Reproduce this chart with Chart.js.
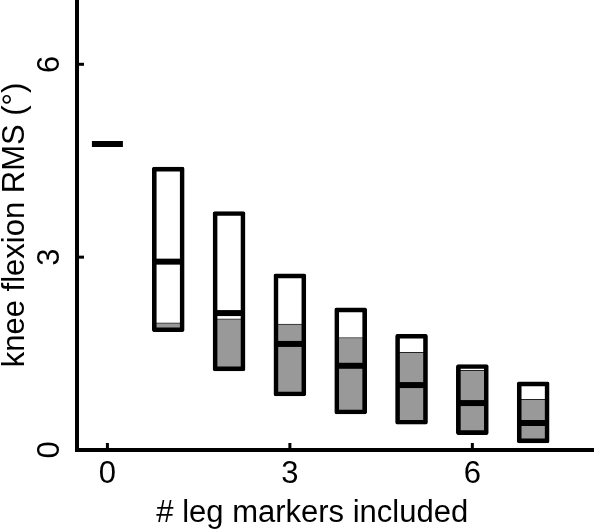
<!DOCTYPE html>
<html>
<head>
<meta charset="utf-8">
<script src="https://cdn.jsdelivr.net/npm/chart.js@4.4.1/dist/chart.umd.min.js"></script>
<style>
  body { margin: 0; background: #fff; }
  canvas { display: block; }
</style>
</head>
<body>
<canvas id="rmsChart" width="594" height="531"></canvas>
<script>
// Chart data
const markerCounts = [0, 1, 2, 3, 4, 5, 6, 7];
const medianRms = [4.76, 2.93, 2.13, 1.65, 1.31, 1.01, 0.73, 0.42];

const boxCounts = [1, 2, 3, 4, 5, 6, 7];
const rangeLow = [1.84, 1.23, 0.84, 0.56, 0.40, 0.24, 0.11];
const rangeHigh = [4.40, 3.71, 2.74, 2.21, 1.80, 1.33, 1.06];
const shadedTop = [1.98, 2.04, 1.96, 1.75, 1.52, 1.24, 0.79];

const xTickValues = [0, 3, 6];
const yTickValues = [0, 3, 6];

const FONT = 'Liberation Sans, Arial, Helvetica, sans-serif';

// Tick marks drawn on the inside of the axes, like the original
const innerTicks = {
    id: 'innerTicks',
    afterDraw(chart) {
        const { ctx, chartArea, scales } = chart;
        ctx.save();
        ctx.strokeStyle = '#000';
        ctx.lineWidth = 3;
        xTickValues.forEach(v => {
            const px = scales.x.getPixelForValue(v);
            ctx.beginPath();
            ctx.moveTo(px, chartArea.bottom);
            ctx.lineTo(px, chartArea.bottom - 7);
            ctx.stroke();
        });
        yTickValues.forEach(v => {
            const py = scales.y.getPixelForValue(v);
            ctx.beginPath();
            ctx.moveTo(chartArea.left, py);
            ctx.lineTo(chartArea.left + 7, py);
            ctx.stroke();
        });
        ctx.restore();
    }
};

function renderChart() {
    const ctx = document.getElementById('rmsChart').getContext('2d');

    new Chart(ctx, {
        type: 'bar',
        data: {
            datasets: [
                {
                    type: 'line',
                    label: 'median',
                    data: markerCounts.map((x, i) => ({ x: x, y: medianRms[i] })),
                    showLine: false,
                    pointStyle: 'line',
                    pointRadius: 15.5,
                    pointBorderWidth: 6,
                    pointBorderColor: '#000',
                    order: 0
                },
                {
                    label: 'range',
                    data: boxCounts.map((x, i) => ({ x: x, y: [rangeLow[i], rangeHigh[i]] })),
                    backgroundColor: 'rgba(0,0,0,0)',
                    borderColor: '#000',
                    borderWidth: 4,
                    borderSkipped: false,
                    borderRadius: 2,
                    barThickness: 32,
                    grouped: false,
                    order: 1
                },
                {
                    label: 'shaded',
                    data: boxCounts.map((x, i) => ({ x: x, y: [rangeLow[i], shadedTop[i]] })),
                    backgroundColor: '#999999',
                    borderColor: '#222',
                    borderWidth: { top: 1, bottom: 0, left: 0, right: 0 },
                    borderSkipped: false,
                    barThickness: 30,
                    grouped: false,
                    order: 2
                }
            ]
        },
        options: {
            responsive: false,
            animation: false,
            layout: { padding: 0, autoPadding: false },
            plugins: {
                legend: { display: false },
                tooltip: { enabled: false }
            },
            scales: {
                x: {
                    type: 'linear',
                    min: -0.5,
                    max: 8,
                    offset: false,
                    grid: { display: false, drawTicks: false },
                    border: { display: true, color: '#000', width: 4 },
                    afterBuildTicks: scale => {
                        scale.ticks = xTickValues.map(v => ({ value: v }));
                    },
                    afterFit: scale => {
                        scale.height = 81;
                        scale.paddingLeft = 0;
                        scale.paddingRight = 0;
                    },
                    ticks: {
                        color: '#000',
                        padding: 6,
                        maxRotation: 0,
                        font: { family: FONT, size: 31 }
                    },
                    title: {
                        display: true,
                        text: '# leg markers included\u2002\u2002\u2002',
                        color: '#000',
                        padding: { top: 0, bottom: 2 },
                        font: { family: FONT, size: 31, lineHeight: 1 }
                    }
                },
                y: {
                    type: 'linear',
                    min: 0,
                    max: 7,
                    grid: { display: false, drawTicks: false },
                    border: { display: true, color: '#000', width: 4 },
                    afterBuildTicks: scale => {
                        scale.ticks = yTickValues.map(v => ({ value: v }));
                    },
                    afterFit: scale => {
                        scale.width = 77;
                        scale.paddingTop = 0;
                        scale.paddingBottom = 0;
                    },
                    ticks: {
                        color: '#000',
                        padding: 18,
                        minRotation: 90,
                        maxRotation: 90,
                        crossAlign: 'center',
                        font: { family: FONT, size: 31 }
                    },
                    title: {
                        display: true,
                        text: 'knee flexion RMS (°)',
                        color: '#000',
                        padding: { top: 0, bottom: 0 },
                        font: { family: FONT, size: 31, lineHeight: 1 }
                    }
                }
            }
        },
        plugins: [innerTicks]
    });
}

document.addEventListener('DOMContentLoaded', renderChart);
</script>
</body>
</html>
